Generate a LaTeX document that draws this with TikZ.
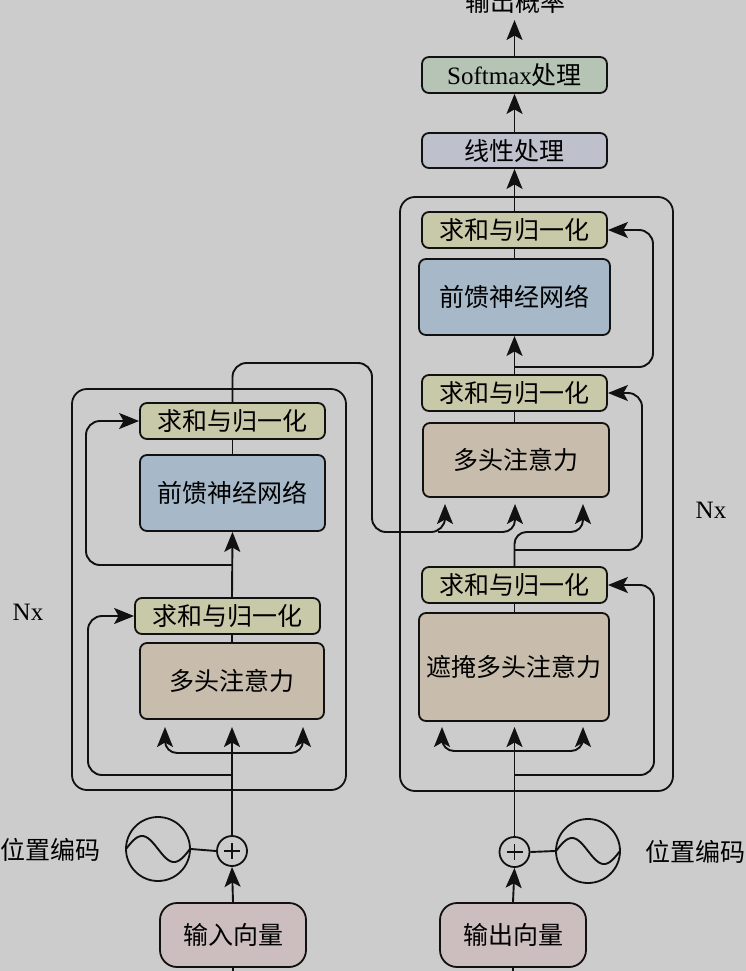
\documentclass[tikz,border=0pt]{standalone}
\usepackage{fontspec}
\setmainfont{Liberation Serif}
\newfontfamily\cjk{Noto Sans CJK SC}
\usetikzlibrary{arrows.meta,calc}
\definecolor{bg}{HTML}{CCCCCC}
\definecolor{linec}{HTML}{111111}
\definecolor{snc}{HTML}{C8C9A8}
\definecolor{ffnc}{HTML}{A7B9C8}
\definecolor{attc}{HTML}{C8BDAC}
\definecolor{smc}{HTML}{B6C4B6}
\definecolor{linc}{HTML}{BEC0CC}
\definecolor{ioc}{HTML}{CCBEBE}
\tikzset{
  box/.style={draw=linec, line width=1.8pt, rounded corners=7pt, inner sep=0pt,
    text=black, font=\cjk\fontsize{25}{29}\selectfont},
  snbox/.style={box, fill=snc, minimum width=185pt, minimum height=36pt},
  iobox/.style={box, fill=ioc, rounded corners=17pt, minimum width=146pt, minimum height=64pt},
  framebox/.style={draw=linec, line width=1.8pt, rounded corners=15pt, inner sep=0pt},
  pluscirc/.style={draw=linec, line width=1.8pt, circle, minimum size=30pt, inner sep=0pt},
  sincirc/.style={draw=linec, line width=1.8pt, circle, minimum size=64pt, inner sep=0pt},
  lbl/.style={inner sep=0pt, text=black, font=\cjk\fontsize{25}{29}\selectfont},
  nxlbl/.style={inner sep=0pt, text=black, font=\fontsize{25}{29}\selectfont},
  ln/.style={draw=linec, line width=1.9pt},
  arr/.style={ln, -{Stealth[length=20pt,width=16pt,inset=4.5pt]}},
}
\begin{document}
\begin{tikzpicture}[x=1pt,y=-1pt]
\useasboundingbox (0,0) rectangle (746,971);
\fill[bg] (0,0) rectangle (746,971);

% ---------- encoder ----------
\node[framebox, minimum width=274pt, minimum height=401pt] (eframe) at (209,589.5) {};
\node[snbox] (esn2) at (232.5,421) {求和与归一化};
\node[box, fill=ffnc, minimum width=185pt, minimum height=76pt] (effn) at (232.5,493) {前馈神经网络};
\node[snbox] (esn1) at (227.5,616) {求和与归一化};
\node[box, fill=attc, minimum width=184pt, minimum height=76pt] (emha) at (232,681) {多头注意力};
\node[pluscirc] (plus1) at (232,851) {};
\node[sincirc] (sin1) at (158,849) {};
\node[iobox] (inbox) at (233,935) {输入向量};
\node[lbl] (pe1) at (50.5,850) {位置编码};
\node[nxlbl] (nx1) at (28,612) {Nx};

\coordinate (eQ) at (165,727);
\coordinate (eV) at (232,727);
\coordinate (eK) at (303,727);
\coordinate (ebr) at (232,753);
\coordinate (eres1) at (232,775);
\coordinate (eres2) at (232,565);
\coordinate (inbot) at (233,975);

% ---------- decoder ----------
\node[framebox, minimum width=273pt, minimum height=594pt] (dframe) at (536.5,494) {};
\node[snbox] (dsn3) at (514.5,230) {求和与归一化};
\node[box, fill=ffnc, minimum width=191pt, minimum height=76pt] (dffn) at (514.5,297) {前馈神经网络};
\node[snbox] (dsn2) at (514.5,393) {求和与归一化};
\node[box, fill=attc, minimum width=186pt, minimum height=74pt] (dmha) at (516,460) {多头注意力};
\node[snbox] (dsn1) at (514.5,585) {求和与归一化};
\node[box, fill=attc, minimum width=190pt, minimum height=108pt] (dmmha) at (514,667) {遮掩多头注意力};
\node[box, fill=linc, minimum width=185pt, minimum height=35pt] (linear) at (514.5,150.5) {线性处理};
\node[box, fill=smc, minimum width=185pt, minimum height=36pt] (softmax) at (514.5,75) {{\rmfamily Softmax}处理};
\node[lbl] (outlbl) at (515,2) {输出概率};
\node[pluscirc] (plus2) at (514.5,852) {};
\node[sincirc] (sin2) at (588,851) {};
\node[iobox] (outbox) at (513,935) {输出向量};
\node[lbl] (pe2) at (695,852) {位置编码};
\node[nxlbl] (nx2) at (711,510) {Nx};

\coordinate (outtip) at (514.5,20);
\coordinate (dK) at (445,504);
\coordinate (dV) at (515,504);
\coordinate (dQ) at (583,504);
\coordinate (esplit) at (438,532);
\coordinate (dmQ) at (442,727);
\coordinate (dmV) at (514.5,727);
\coordinate (dmK) at (583,727);
\coordinate (dbr) at (514.5,751);
\coordinate (dres1) at (514.5,775);
\coordinate (dres2) at (514.5,550);
\coordinate (dres3) at (514.5,367);
\coordinate (outbot) at (513,975);

% plus signs and sine waves
\foreach \p in {plus1,plus2}{
  \draw[ln, line width=1.3pt] ($(\p.center)+(-8,0)$) -- ($(\p.center)+(8,0)$);
  \draw[ln, line width=1.3pt] ($(\p.center)+(0,-8)$) -- ($(\p.center)+(0,8)$);
}
\draw[ln] plot[domain=0:360, samples=60, smooth] ({126+\x/360*64}, {849-13*sin(\x)});
\draw[ln] plot[domain=0:360, samples=60, smooth] ({556+\x/360*64}, {851-13*sin(\x)});

% ---------- encoder connectors ----------
\draw[arr] (inbox.north) -- (plus1.south);
\draw[ln] (inbox.south) -- (inbot);
\draw[ln] (sin1.east) -- (plus1.west);
\draw[arr] (plus1.north) -- (eV);
\draw[arr, rounded corners=12pt] (ebr) -| (eQ);
\draw[arr, rounded corners=12pt] (ebr) -| (eK);
\draw[arr, rounded corners=14pt] (eres1) -- (88,775) |- (esn1.west);
\draw[ln] (emha.north) -- (emha.north |- esn1.south);
\draw[arr] (emha.north |- esn1.north) -- (effn.south);
\draw[arr, rounded corners=14pt] (eres2) -- (86,565) |- (esn2.west);
\draw[ln] (effn.north) -- (esn2.south);
\draw[arr, rounded corners=14pt] (esn2.north) -- (232.5,363) -- (372,363) -- (372,532) -| (dK);
\draw[arr, rounded corners=12pt] (esplit) -| (dV);

% ---------- decoder connectors ----------
\draw[arr] (outbox.north) -- (plus2.south);
\draw[ln] (outbox.south) -- (outbot);
\draw[ln] (sin2.west) -- (plus2.east);
\draw[arr] (plus2.north) -- (dmV);
\draw[arr, rounded corners=12pt] (dbr) -| (dmQ);
\draw[arr, rounded corners=12pt] (dbr) -| (dmK);
\draw[arr, rounded corners=14pt] (dres1) -- (654,775) |- (dsn1.east);
\draw[ln] (dmmha.north -| dsn1.south) -- (dsn1.south);
\draw[arr, rounded corners=12pt] (dsn1.north) -- (514.5,532) -| (dQ);
\draw[arr, rounded corners=14pt] (dres2) -- (642,550) |- (dsn2.east);
\draw[ln] (dmha.north -| dsn2.south) -- (dsn2.south);
\draw[arr] (dsn2.north) -- (dffn.south);
\draw[arr, rounded corners=14pt] (dres3) -- (653,367) |- (dsn3.east);
\draw[ln] (dffn.north) -- (dsn3.south);
\draw[arr] (dsn3.north) -- (linear.south);
\draw[arr] (linear.north) -- (softmax.south);
\draw[arr] (softmax.north) -- (outtip);
\end{tikzpicture}
\end{document}
